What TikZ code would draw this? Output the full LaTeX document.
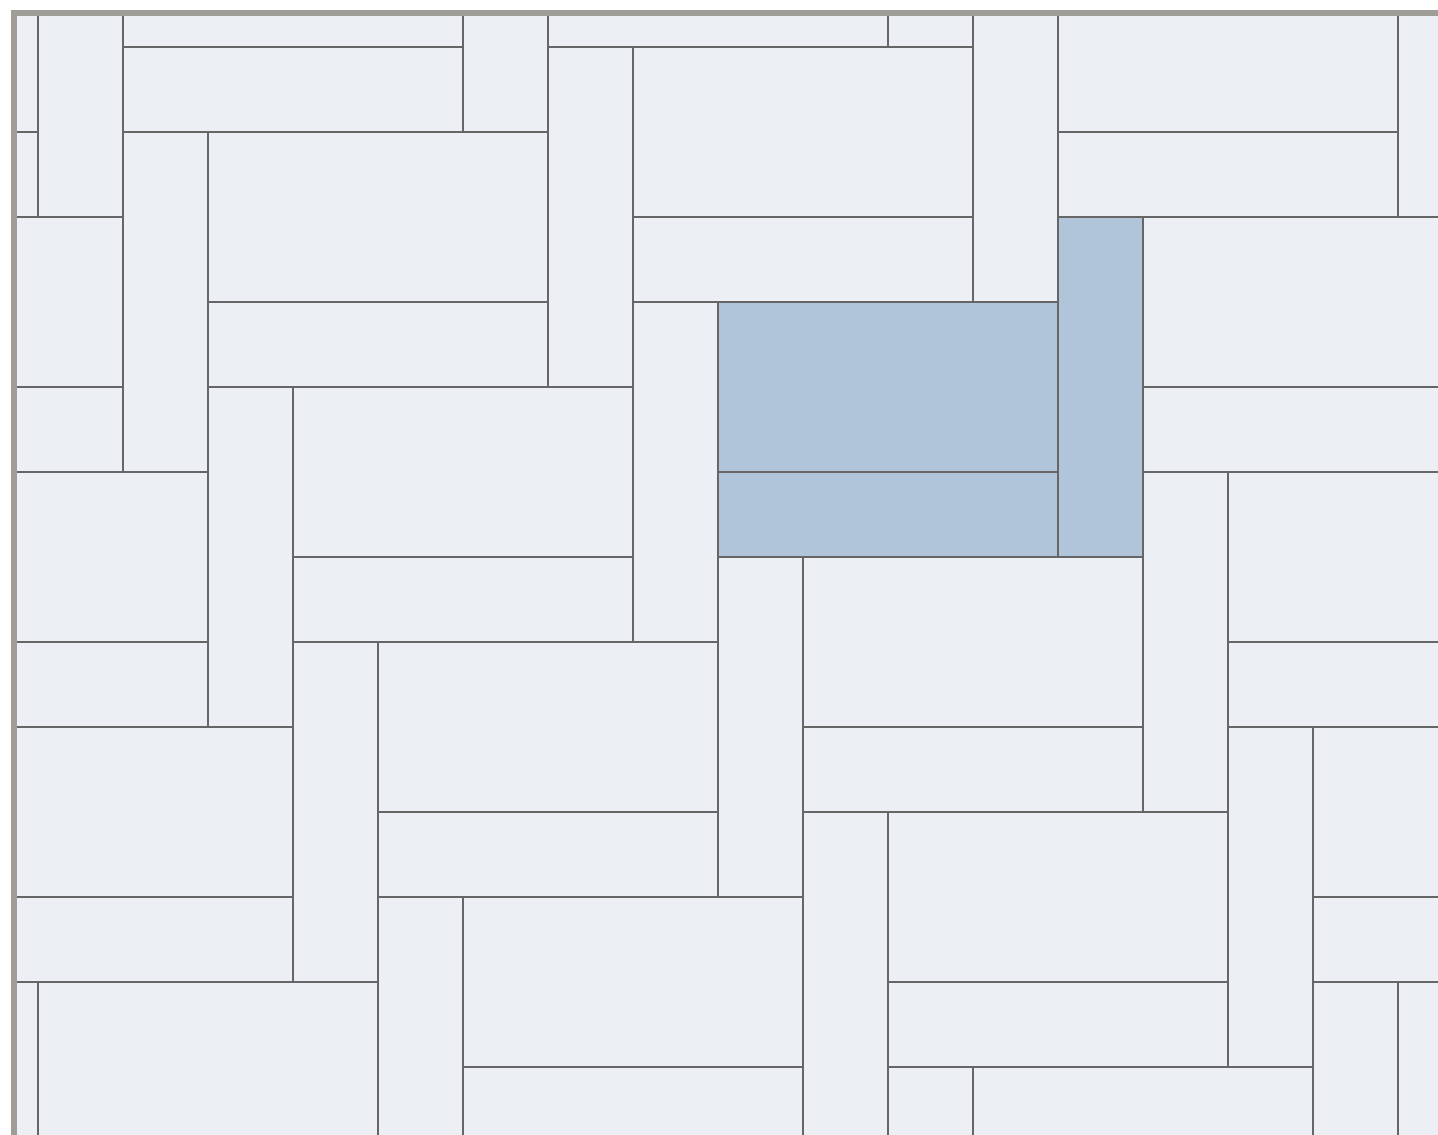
\documentclass[tikz,border=0pt]{standalone}
\usepackage{tikz}
\definecolor{tilefill}{HTML}{ECEFF4}
\definecolor{tileline}{HTML}{666666}
\definecolor{pickfill}{HTML}{B0C4DA}
\definecolor{framegray}{HTML}{A09D99}

\begin{document}
\begin{tikzpicture}[x=0.85cm, y=-0.85cm,
  tile/.style={draw=tileline, fill=tilefill, line width=0.6pt},
  picked/.style={tile, fill=pickfill},
  frame/.style={draw=framegray, line width=1.45pt}
]
  \useasboundingbox (-0.4471,-0.5529) rectangle (16.4706,12.8);
  % weave of 4x2 + 4x1 bricks with a 1x4 post, repeated on the lattice
  \begin{scope}
    \clip (-0.2824,-0.4) rectangle (16.4706,12.8);
    \foreach \m in {-5,...,4}{
      \foreach \n in {-3,...,4}{
        \pgfmathtruncatemacro{\tx}{8-\m-5*\n}
        \pgfmathtruncatemacro{\ty}{3-3*\m+\n}
        \draw[tile] (\tx,\ty) rectangle ++(4,2);
        \draw[tile] (\tx,\ty+2) rectangle ++(4,1);
        \draw[tile] (\tx+4,\ty-1) rectangle ++(1,4);
      }
    }
    % the marked unit
    \draw[picked] (8,3) rectangle ++(4,2);
    \draw[picked] (8,5) rectangle ++(4,1);
    \draw[picked] (12,2) rectangle ++(1,4);
  \end{scope}
  \begin{scope}
    \clip (-0.4471,-0.5529) rectangle (16.4706,12.8);
    \draw[frame] (-0.2824,-0.4) rectangle (17.5,13.5);
  \end{scope}
\end{tikzpicture}
\end{document}
